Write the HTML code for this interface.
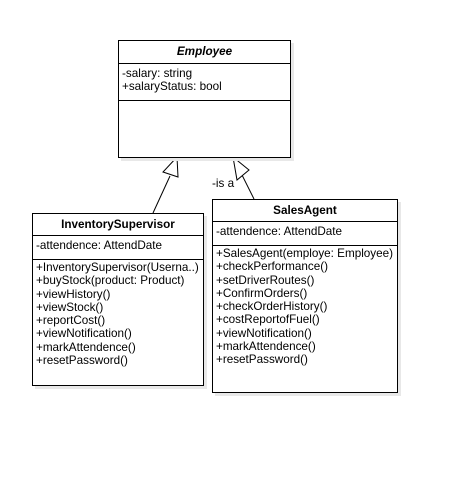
<!DOCTYPE html>
<html><head><style>
body{margin:0;background:#fff;width:451px;height:489px;overflow:hidden;position:relative;font-family:"Liberation Sans",Arial,sans-serif;font-size:11.7px;color:#000}
.b{position:absolute;border:1px solid #000;background:#fff;box-shadow:3px 3px 0 #e8e8e8;box-sizing:border-box}
.t{text-align:center;font-weight:bold;border-bottom:1px solid #000;font-size:11.7px}
.s{border-bottom:1px solid #000;padding:1px 0 0 3px;line-height:13.3px}
.m{padding:1px 0 0 3px;line-height:13.3px}
</style></head><body>
<svg width="451" height="489" style="position:absolute;left:0;top:0">
<line x1="170" y1="176" x2="153" y2="213" stroke="#000"/>
<polygon points="177,157 163,172 178,177" fill="#fff" stroke="#000"/>
<line x1="242" y1="175" x2="254" y2="199" stroke="#000"/>
<polygon points="233,157 249,170 237,180" fill="#fff" stroke="#000"/>
<text x="212" y="187" font-family="Liberation Sans,Arial,sans-serif" font-size="11.7">-is a</text>
</svg>
<div class="b" style="left:118px;top:40px;width:173px;height:118px">
<div class="t" style="height:22px;line-height:22px;font-style:italic">Employee</div>
<div class="s" style="height:33px;padding-top:3px">-salary: string<br>+salaryStatus: bool</div>
</div>
<div class="b" style="left:32px;top:213px;width:172px;height:173px">
<div class="t" style="height:21px;line-height:21px">InventorySupervisor</div>
<div class="s" style="height:20px;padding-top:3px">-attendence: AttendDate</div>
<div class="m">+InventorySupervisor(Userna..)<br>+buyStock(product: Product)<br>+viewHistory()<br>+viewStock()<br>+reportCost()<br>+viewNotification()<br>+markAttendence()<br>+resetPassword()</div>
</div>
<div class="b" style="left:212px;top:199px;width:186px;height:194px">
<div class="t" style="height:21px;line-height:21px">SalesAgent</div>
<div class="s" style="height:20px;padding-top:3px">-attendence: AttendDate</div>
<div class="m">+SalesAgent(employe: Employee)<br>+checkPerformance()<br>+setDriverRoutes()<br>+ConfirmOrders()<br>+checkOrderHistory()<br>+costReportofFuel()<br>+viewNotification()<br>+markAttendence()<br>+resetPassword()</div>
</div>
</body></html>
